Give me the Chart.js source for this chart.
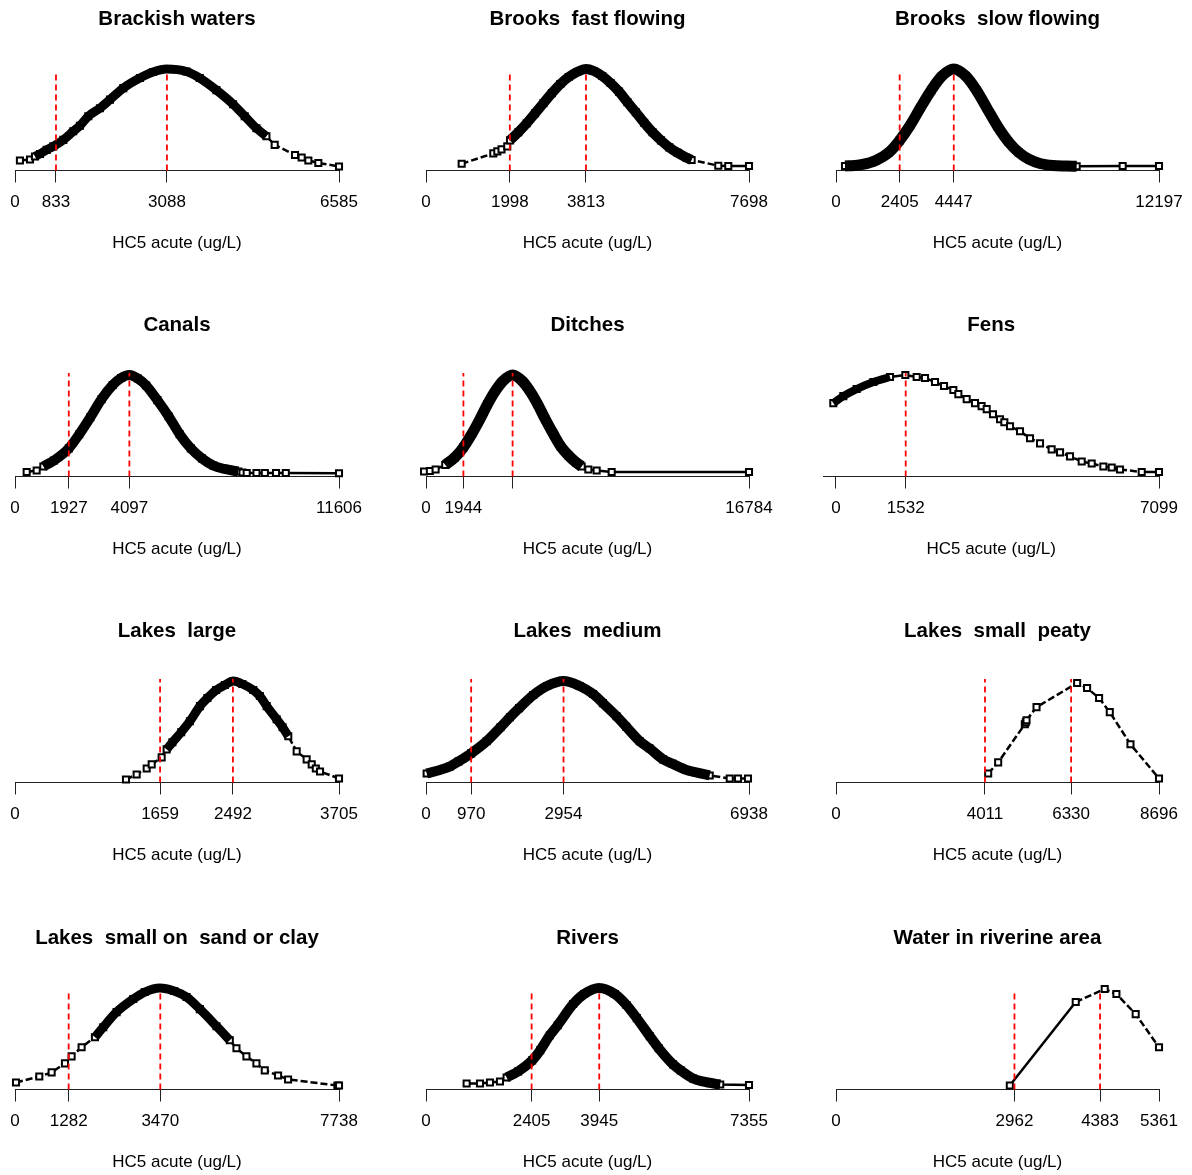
<!DOCTYPE html>
<html>
<head>
<meta charset="utf-8">
<script src="https://cdn.jsdelivr.net/npm/chart.js@4.4.1/dist/chart.umd.min.js"></script>
<style>
html,body{margin:0;padding:0;overflow:hidden;background:#fff;width:1192px;height:1175px;position:relative;}
canvas{position:absolute;}
</style>
</head>
<body>
<script>
// ---------- DATA ----------
const titles = ["Brackish waters","Brooks  fast flowing","Brooks  slow flowing","Canals","Ditches","Fens",
  "Lakes  large","Lakes  medium","Lakes  small  peaty","Lakes  small on  sand or clay","Rivers","Water in riverine area"];
const hc5Low  = [833,1998,2405,1927,1944,null,1659,970,4011,1282,2405,2962];
const hc5Mean = [3088,3813,4447,4097,4500,1532,2492,2954,6330,3470,3945,4383];
const xMin = [0,0,0,0,0,-279,0,0,0,0,0,0];
const xMax = [6585,7698,12197,11606,16784,7099,3705,6938,8696,7738,7355,5361];
const redTop = [0.97,0.97,0.97,1.03,1.03,1.03,1.03,1.03,1.03,0.96,0.96,0.96];
const tickValues = [[0,833,3088,6585],[0,1998,3813,7698],[0,2405,4447,12197],[0,1927,4097,11606],
  [0,1944,4500,16784],[0,1532,7099],[0,1659,2492,3705],[0,970,2954,6938],[0,4011,6330,8696],
  [0,1282,3470,7738],[0,2405,3945,7355],[0,2962,4383,5361]];
const tickText = [["0","833","3088","6585"],["0","1998","3813","7698"],["0","2405","4447","12197"],["0","1927","4097","11606"],
  ["0","1944","","16784"],["0","1532","7099"],["0","1659","2492","3705"],["0","970","2954","6938"],["0","4011","6330","8696"],
  ["0","1282","3470","7738"],["0","2405","3945","7355"],["0","2962","4383","5361"]];
const axisTitle = "HC5 acute (ug/L)";

// curves: relative density (x in ug/L)
const brackishX = [100,305,406,508,644,779,982,1184,1319,1490,1726,1930,2201,2538,2807,3079,3484,3755,4094,4432,4669,4907,5110,5278,5691,5826,5962,6165,6585];
const brackishY = [0.10,0.11,0.14,0.165,0.205,0.24,0.305,0.39,0.445,0.54,0.62,0.705,0.82,0.92,0.98,1.01,0.985,0.92,0.80,0.66,0.54,0.42,0.34,0.255,0.155,0.13,0.10,0.075,0.04];
const brooksFastX = [850,1604,1700,1800,1937,2002,2200,2400,2600,2800,3000,3200,3400,3600,3813,4000,4200,4400,4600,4800,5000,5200,5400,5600,5800,6000,6200,6331,6966,7204,7698];
const brooksFastY = [0.067,0.17,0.19,0.21,0.24,0.30,0.38,0.47,0.57,0.67,0.77,0.86,0.93,0.98,1.01,0.99,0.94,0.87,0.785,0.68,0.58,0.475,0.38,0.30,0.23,0.175,0.13,0.105,0.048,0.045,0.045];
const brooksSlowX = [340,700,1000,1500,2000,2405,2800,3200,3600,4000,4447,4900,5300,5700,6100,6500,6900,7300,7700,8200,8700,9088,10825,12197];
const brooksSlowY = [0.045,0.05,0.06,0.10,0.18,0.30,0.45,0.63,0.80,0.94,1.01,0.94,0.80,0.62,0.44,0.29,0.18,0.11,0.07,0.05,0.045,0.042,0.045,0.045];
const canalsX = [418,776,1015,1400,1927,2300,2700,3100,3500,3800,4097,4400,4700,5100,5500,5900,6300,6700,7100,7500,8000,8150,8300,8650,8950,9350,9700,11606];
const canalsY = [0.045,0.06,0.10,0.16,0.28,0.42,0.59,0.77,0.91,0.98,1.01,0.975,0.905,0.76,0.60,0.42,0.28,0.18,0.11,0.075,0.05,0.04,0.035,0.035,0.035,0.035,0.035,0.032];
const ditchesX = [-100,200,500,1000,1500,1944,2400,2800,3200,3600,4000,4500,5000,5400,5800,6200,6600,7000,7400,7800,8090,8436,8869,9648,16784];
const ditchesY = [0.05,0.055,0.07,0.115,0.19,0.29,0.43,0.57,0.72,0.85,0.95,1.01,0.95,0.85,0.72,0.57,0.43,0.30,0.21,0.14,0.10,0.07,0.06,0.045,0.045];
const fensX = [-59,161,454,821,1187,1524,1773,1956,2176,2374,2579,2689,2872,3055,3200,3312,3450,3605,3700,3825,4044,4264,4484,4740,4924,5143,5400,5620,5876,6060,6242,6719,7099];
const fensY = [0.73,0.80,0.87,0.94,0.99,1.01,0.99,0.98,0.94,0.90,0.86,0.82,0.77,0.73,0.70,0.67,0.62,0.57,0.54,0.50,0.45,0.38,0.33,0.27,0.24,0.20,0.15,0.13,0.10,0.09,0.07,0.045,0.045];
const lakesLargeX = [1269,1391,1506,1563,1677,1734,1800,1900,2000,2115,2200,2300,2400,2497,2600,2725,2800,2878,2992,3060,3125,3221,3335,3393,3440,3488,3705];
const lakesLargeY = [0.03,0.08,0.14,0.18,0.25,0.33,0.40,0.50,0.61,0.76,0.84,0.92,0.97,1.01,0.98,0.92,0.86,0.76,0.63,0.55,0.46,0.31,0.23,0.18,0.14,0.11,0.04];
const lakesMediumX = [14,300,515,700,970,1302,1600,1803,2000,2303,2600,2954,3300,3590,3800,4093,4300,4592,4800,5093,5300,5594,5800,6094,6524,6702,6916];
const lakesMediumY = [0.09,0.125,0.16,0.21,0.29,0.41,0.55,0.65,0.74,0.87,0.96,1.01,0.96,0.88,0.79,0.66,0.555,0.41,0.34,0.23,0.185,0.125,0.10,0.07,0.04,0.04,0.04];
const lakesPeatyX = [4097,4366,5084,5110,5130,5399,6492,6760,7083,7371,7928,8696];
const lakesPeatyY = [0.09,0.20,0.58,0.60,0.62,0.75,0.99,0.94,0.84,0.70,0.38,0.04];
const lakesSandX = [24,580,875,1193,1352,1591,1909,2108,2426,2824,3100,3460,3800,4097,4414,4812,5130,5289,5527,5766,5965,6283,6522,7700,7738];
const lakesSandY = [0.07,0.13,0.17,0.26,0.33,0.42,0.52,0.62,0.77,0.90,0.97,1.01,0.98,0.92,0.80,0.63,0.49,0.41,0.33,0.26,0.19,0.14,0.10,0.04,0.04];
const riversX = [925,1229,1456,1684,1835,2100,2418,2600,2821,3000,3351,3600,3943,4300,4566,4800,5096,5300,5626,5800,6081,6300,6612,6700,7355];
const riversY = [0.06,0.06,0.07,0.08,0.12,0.18,0.29,0.39,0.54,0.64,0.85,0.95,1.01,0.95,0.84,0.71,0.53,0.41,0.25,0.19,0.11,0.08,0.055,0.05,0.045];
const riverineX = [2885,3979,4460,4654,4974,5361];
const riverineY = [0.04,0.87,1.00,0.95,0.75,0.42];

const curvesX = [brackishX,brooksFastX,brooksSlowX,canalsX,ditchesX,fensX,lakesLargeX,lakesMediumX,lakesPeatyX,lakesSandX,riversX,riverineX];
const curvesY = [brackishY,brooksFastY,brooksSlowY,canalsY,ditchesY,fensY,lakesLargeY,lakesMediumY,lakesPeatyY,lakesSandY,riversY,riverineY];
// x-range where the sample points overlap into a solid band
const bandFrom = [406,2002,340,1015,1000,-59,1734,14,null,1909,1835,null];
const bandTo   = [5110,6331,9088,8000,8090,1300,3125,6094,null,5130,6700,null];

// ---------- LAYOUT / STYLE ----------
const bandWidth = [9,10,11,10,11,8,9,10,0,9,10,0];
const FONT = '"Liberation Sans", Arial, Helvetica, sans-serif';
const colLeft = [0,397,794], colWidth = [397,397,398];
const areaLeft = [15,426,836], areaRight = [339,749,1159];
const rowTop = [0,306,612,919];
const CANVAS_H = 306, TITLE_BLOCK = 70, AXIS_H = 135.5;

Chart.defaults.font.family = FONT;
Chart.defaults.color = '#000';

for (let i = 0; i < 12; i++) {
  const row = Math.floor(i / 3), col = i % 3;
  const cv = document.createElement('canvas');
  cv.width = colWidth[col]; cv.height = CANVAS_H;
  cv.style.left = colLeft[col] + 'px'; cv.style.top = rowTop[row] + 'px';
  cv.style.width = colWidth[col] + 'px'; cv.style.height = CANVAS_H + 'px';
  document.body.appendChild(cv);

  const pxPerUnit = (areaRight[col] - areaLeft[col]) / xMax[i];
  const chartLeft = areaLeft[col] + xMin[i] * pxPerUnit;
  const padL = chartLeft - colLeft[col];
  const padR = colLeft[col] + colWidth[col] - areaRight[col];

  const pts = curvesX[i].map((x, k) => ({x: x, y: curvesY[i][k]}));
  const datasets = [];
  [hc5Low[i], hc5Mean[i]].forEach(v => {
    if (v == null) return;
    datasets.push({data: [{x: v, y: 0}, {x: v, y: redTop[i]}], borderColor: '#ff0000', borderWidth: 1.8,
      borderDash: [6, 4], pointRadius: 0, pointHoverRadius: 0, order: 0, clip: false});
  });
  if (bandFrom[i] != null) {
    datasets.push({data: pts.filter(p => p.x >= bandFrom[i] && p.x <= bandTo[i]), borderColor: '#000',
      borderWidth: bandWidth[i], pointRadius: 0, pointHoverRadius: 0, cubicInterpolationMode: 'monotone',
      borderJoinStyle: 'round', order: 1, clip: false});
  }
  datasets.push({data: pts, borderColor: '#000', borderWidth: 2.5, pointStyle: 'rect', pointRadius: 4.3,
    pointHoverRadius: 4.3, pointBorderWidth: 2, pointBackgroundColor: '#fff', pointBorderColor: '#000',
    order: 2, clip: false,
    segment: {borderDash: c => {
      const dx = c.p1.x - c.p0.x, dy = c.p1.y - c.p0.y;
      return (Math.hypot(dx, dy) > 80 || Math.abs(dy) < 2.5) ? undefined : [7, 3];
    }}});

  new Chart(cv, {
    type: 'line',
    data: {datasets},
    options: {
      responsive: false, animation: false, devicePixelRatio: 1, events: [],
      layout: {padding: {left: padL, right: padR, top: 0, bottom: 0}},
      plugins: {
        legend: {display: false}, tooltip: {enabled: false},
        title: {display: true, text: titles[i], color: '#000',
          font: {family: FONT, size: 20.5, weight: 'bold', lineHeight: 1.2},
          padding: {top: 6.7, bottom: TITLE_BLOCK - 6.7 - 24.6}}
      },
      scales: {
        x: {
          type: 'linear', min: xMin[i], max: xMax[i],
          afterBuildTicks: s => { s.ticks = tickValues[i].map(v => ({value: v})); },
          afterFit: s => { s.height = AXIS_H; },
          ticks: {autoSkip: false, maxRotation: 0, minRotation: 0, padding: 9.3, color: '#000',
            font: {family: FONT, size: 17, lineHeight: 1.2},
            callback: (v, idx) => tickText[i][idx]},
          grid: {display: true, drawOnChartArea: false, drawTicks: true, tickLength: 12, color: '#222', lineWidth: 1},
          border: {display: true, color: '#222', width: 1},
          title: {display: true, text: axisTitle, color: '#000',
            font: {family: FONT, size: 17, lineHeight: 1.2},
            padding: {top: 0, bottom: 52.8}}
        },
        y: {display: false, min: 0, max: 1}
      }
    }
  });
}
</script>
</body>
</html>
